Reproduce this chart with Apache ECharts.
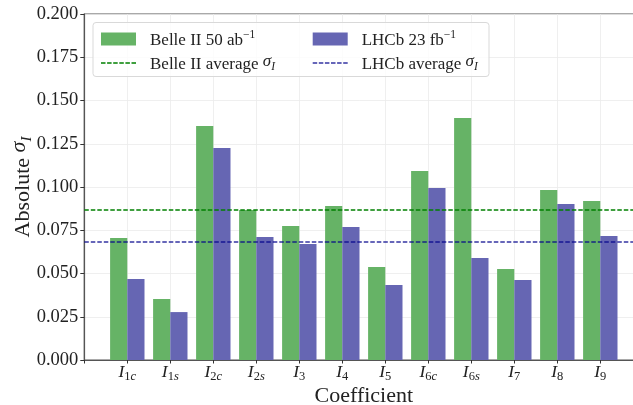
<!DOCTYPE html>
<html>
<head>
<meta charset="utf-8">
<script src="https://cdn.jsdelivr.net/npm/echarts@6/dist/echarts.min.js"></script>
<style>html,body{margin:0;padding:0;background:#fff}#c{width:633px;height:405px}</style>
</head>
<body>
<div id="c"></div>
<script>
var subDigits  = ['1','1','2','2','3','4','5','6','6','7','8','9'];
var subLetters = ['c','s','c','s','','','','c','s','','',''];
var belle = [0.0705,0.0353,0.1353,0.0867,0.0775,0.0890,0.0538,0.1092,0.1399,0.0526,0.0983,0.0919];
var lhcb  = [0.0468,0.0277,0.1225,0.0711,0.0671,0.0769,0.0434,0.0994,0.0590,0.0462,0.0902,0.0717];
var belleAvg = 0.0867;
var lhcbAvg = 0.0682;

var FONT = 'Liberation Serif';
var chart = echarts.init(document.getElementById('c'), null, {renderer:'canvas'});
function pts(arr){ return arr.map(function(v,i){ return [i,v]; }); }
var dashIcon = 'path://M0,0h4.5v1.3h-4.5z M6.1,0h4.5v1.3h-4.5z M12.2,0h4.5v1.3h-4.5z M18.3,0h4.5v1.3h-4.5z M24.4,0h4.5v1.3h-4.5z M30.5,0h4.5v1.3h-4.5z';
var supRich = {
  n:{fontFamily:FONT,fontSize:17,lineHeight:20,verticalAlign:'bottom',color:'#222'},
  sup:{fontFamily:FONT,fontSize:11.5,lineHeight:11,verticalAlign:'top',color:'#222'},
  it:{fontFamily:FONT,fontSize:17,fontStyle:'italic',lineHeight:20,verticalAlign:'top',color:'#222'},
  sub:{fontFamily:FONT,fontSize:11.5,fontStyle:'italic',lineHeight:11,verticalAlign:'bottom',color:'#222'}
};
var labels = {
  'Belle II 50 ab-1':'{n|Belle II 50 ab}{sup|\u22121}',
  'LHCb 23 fb-1':'{n|LHCb 23 fb}{sup|\u22121}',
  'Belle II average':'{n|Belle II average }{it|\u03c3}{sub|I}',
  'LHCb average':'{n|LHCb average }{it|\u03c3}{sub|I}'
};
var legendBase = {
  orient:'vertical', top:29, padding:0, itemWidth:35, itemHeight:13, itemGap:4,
  selectedMode:false, symbolKeepAspect:true,
  formatter:function(n){ return labels[n]; },
  textStyle:{fontFamily:FONT,fontSize:17,color:'#222',padding:[0,0,0,9],rich:supRich}
};
var option = {
  backgroundColor:'#fff',
  animation:false,
  grid:{left:84.3,right:-10.3,top:14,bottom:45,show:true,borderColor:'#555',borderWidth:1.2,backgroundColor:'transparent',outerBoundsMode:'none',containLabel:false},
  graphic:[{type:'rect',shape:{x:93,y:22.5,width:396,height:54,r:3},style:{fill:'rgba(255,255,255,0.8)',stroke:'#d9d9d9',lineWidth:1},z:3}],
  legend:[
    Object.assign({},legendBase,{left:101,data:[
      {name:'Belle II 50 ab-1',icon:'rect'},
      {name:'Belle II average',icon:dashIcon,itemStyle:{color:'#008000'}}
    ]}),
    Object.assign({},legendBase,{left:312.7,data:[
      {name:'LHCb 23 fb-1',icon:'rect'},
      {name:'LHCb average',icon:dashIcon,itemStyle:{color:'rgba(0,0,139,0.8)'}}
    ]})
  ],
  xAxis:{
    type:'value', min:-1, max:12, interval:1,
    name:'Coefficient', nameLocation:'middle', nameGap:25.5, nameMoveOverlap:false,
    nameTextStyle:{fontFamily:FONT,fontSize:22,color:'#222'},
    axisLine:{show:true,onZero:false,lineStyle:{color:'#555',width:1.2}},
    axisTick:{show:true,length:3.5,lineStyle:{color:'#333'}},
    splitLine:{show:true,lineStyle:{color:'#ebebeb',width:0.8}},
    axisLabel:{
      margin:3,
      formatter:function(v){
        if(v<0||v>11) return '';
        var s = '{i|I}{s|'+subDigits[v]+'}';
        if(subLetters[v]) s += '{l|'+subLetters[v]+'}';
        return s;
      },
      rich:{
        i:{fontFamily:FONT,fontSize:17.5,fontStyle:'italic',lineHeight:20,verticalAlign:'top',color:'#222'},
        s:{fontFamily:FONT,fontSize:12.5,lineHeight:12,verticalAlign:'bottom',color:'#222'},
        l:{fontFamily:FONT,fontSize:12.5,fontStyle:'italic',lineHeight:12,verticalAlign:'bottom',color:'#222'}
      }
    }
  },
  yAxis:{
    type:'value', min:0, max:0.2, interval:0.025,
    name:'{n|Absolute }{it|\u03c3}{sub|I}', nameLocation:'middle', nameGap:50, nameMoveOverlap:false,
    nameTextStyle:{fontFamily:FONT,fontSize:22,color:'#222',rich:{
      n:{fontFamily:FONT,fontSize:22,lineHeight:26,verticalAlign:'bottom',color:'#222'},
      it:{fontFamily:FONT,fontSize:22,fontStyle:'italic',lineHeight:26,verticalAlign:'top',color:'#222'},
      sub:{fontFamily:FONT,fontSize:15,fontStyle:'italic',lineHeight:15,verticalAlign:'bottom',color:'#222'}
    }},
    axisLine:{show:true,onZero:false,lineStyle:{color:'#555',width:1.2}},
    axisTick:{show:true,length:4,lineStyle:{color:'#333'}},
    splitLine:{show:true,lineStyle:{color:'#ebebeb',width:0.8}},
    axisLabel:{margin:6,fontFamily:FONT,fontSize:18.5,color:'#222',formatter:function(v){return v.toFixed(3);}}
  },
  series:[
    {name:'Belle II 50 ab-1',type:'bar',barWidth:17.2,barGap:'0%',data:pts(belle),itemStyle:{color:'#66b366'},z:2},
    {name:'LHCb 23 fb-1',type:'bar',barWidth:17.2,barGap:'0%',data:pts(lhcb),itemStyle:{color:'#6666b3'},z:2},
    {name:'Belle II average',type:'line',symbol:'none',data:[[-1,belleAvg],[12,belleAvg]],lineStyle:{color:'#008000',width:1.3,type:[4.5,2]},itemStyle:{color:'#008000'},z:4},
    {name:'LHCb average',type:'line',symbol:'none',data:[[-1,lhcbAvg],[12,lhcbAvg]],lineStyle:{color:'rgba(0,0,139,0.8)',width:1.3,type:[4.5,2]},itemStyle:{color:'rgba(0,0,139,0.8)'},z:4}
  ]
};
chart.setOption(option);
</script>
</body>
</html>
